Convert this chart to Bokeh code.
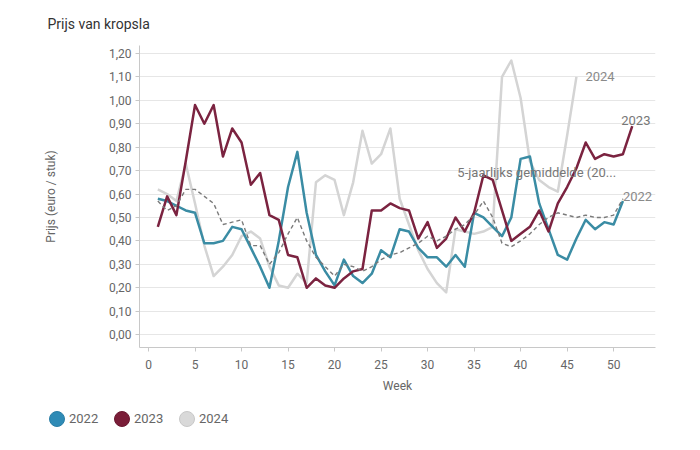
from bokeh.plotting import figure
from bokeh.layouts import column
from bokeh.models import (Range1d, FixedTicker, CustomJSTickFormatter, Label, Div)
from bokeh.embed import file_html
from bokeh.resources import INLINE

# ---------------- data ----------------
weeks_2022 = list(range(1, 52))
price_2022 = [0.58, 0.57, 0.55, 0.53, 0.52, 0.39, 0.39, 0.40, 0.46, 0.45,
              0.37, 0.29, 0.20, 0.40, 0.63, 0.78, 0.52, 0.34, 0.27, 0.21,
              0.32, 0.25, 0.22, 0.26, 0.36, 0.33, 0.45, 0.44, 0.37, 0.33,
              0.33, 0.29, 0.34, 0.29, 0.52, 0.50, 0.46, 0.42, 0.50, 0.75,
              0.76, 0.56, 0.45, 0.34, 0.32, 0.41, 0.49, 0.45, 0.48, 0.47,
              0.57]

weeks_2023 = list(range(1, 53))
price_2023 = [0.46, 0.59, 0.51, 0.74, 0.98, 0.90, 0.98, 0.76, 0.88, 0.82,
              0.64, 0.69, 0.51, 0.49, 0.34, 0.33, 0.20, 0.24, 0.21, 0.20,
              0.24, 0.27, 0.28, 0.53, 0.53, 0.56, 0.54, 0.53, 0.41, 0.48,
              0.37, 0.41, 0.50, 0.44, 0.52, 0.68, 0.66, 0.53, 0.40, 0.43,
              0.46, 0.53, 0.44, 0.56, 0.63, 0.71, 0.82, 0.75, 0.77, 0.76,
              0.77, 0.89]

weeks_2024 = list(range(1, 47))
price_2024 = [0.62, 0.60, 0.57, 0.73, 0.56, 0.38, 0.25, 0.29, 0.34, 0.42,
              0.44, 0.41, 0.29, 0.21, 0.20, 0.26, 0.22, 0.65, 0.68, 0.66,
              0.51, 0.65, 0.87, 0.73, 0.77, 0.88, 0.58, 0.47, 0.36, 0.28,
              0.22, 0.18, 0.45, 0.44, 0.43, 0.44, 0.46, 1.10, 1.17, 1.01,
              0.74, 0.66, 0.63, 0.61, 0.85, 1.10]

weeks_avg = list(range(1, 52))
price_avg = [0.57, 0.53, 0.55, 0.62, 0.62, 0.59, 0.56, 0.47, 0.48, 0.49,
             0.38, 0.38, 0.30, 0.35, 0.43, 0.50, 0.40, 0.33, 0.29, 0.25,
             0.30, 0.29, 0.27, 0.29, 0.32, 0.34, 0.35, 0.37, 0.39, 0.42,
             0.40, 0.42, 0.45, 0.47, 0.51, 0.57, 0.50, 0.39, 0.375, 0.40,
             0.43, 0.47, 0.50, 0.52, 0.51, 0.50, 0.51, 0.50, 0.50, 0.51,
             0.58]

x_ticks = [0, 5, 10, 15, 20, 25, 30, 35, 40, 45, 50]
y_ticks = [0.0, 0.1, 0.2, 0.3, 0.4, 0.5, 0.6, 0.7, 0.8, 0.9, 1.0, 1.1, 1.2]

title_text = "Prijs van kropsla"
x_title = "Week"
y_title = "Prijs (euro / stuk)"
avg_label = "5-jaarlijks gemiddelde (20..."
series_names = ["2022", "2023", "2024"]

# ---------------- style ----------------
FONT = "Roboto"
C22, C23, C24, CAVG = "#3a8ca4", "#7b2340", "#d4d4d4", "#7a7a7a"
legend_fill = ["#2f8bb6", "#7a1d38", "#d9d9d9"]
legend_edge = ["#2a7ea6", "#6a1830", "#c8c8c8"]

p = figure(width=700, height=395, output_backend="svg", toolbar_location=None,
           x_range=Range1d(-0.97, 54.5), y_range=Range1d(-0.055, 1.234),
           min_border_left=139, min_border_right=45, min_border_top=45,
           min_border_bottom=45)
p.outline_line_color = None
p.background_fill_color = "white"
p.border_fill_color = "white"

p.title.text = title_text
p.title.align = "left"
p.title.offset = -92
p.title.standoff = 27
p.title.text_font = FONT
p.title.text_font_size = "14px"
p.title.text_font_style = "normal"
p.title.text_color = "#333333"

p.xgrid.visible = False
p.ygrid.grid_line_color = "#e6e6e6"
p.ygrid.grid_line_width = 1

p.xaxis.ticker = FixedTicker(ticks=x_ticks)
p.yaxis.ticker = FixedTicker(ticks=y_ticks)
p.yaxis.formatter = CustomJSTickFormatter(code="return tick.toFixed(2).replace('.', ',');")

for ax in (p.xaxis, p.yaxis):
    ax.axis_line_color = "#c8c8c8"
    ax.major_tick_line_color = "#c8c8c8"
    ax.major_tick_in = 0
    ax.major_tick_out = 4
    ax.minor_tick_line_color = None
    ax.major_label_text_font = FONT
    ax.major_label_text_font_size = "12px"
    ax.major_label_text_color = "#666666"
    ax.axis_label_text_font = FONT
    ax.axis_label_text_font_size = "12px"
    ax.axis_label_text_font_style = "normal"
    ax.axis_label_text_color = "#666666"

p.xaxis.axis_label = x_title
p.yaxis.axis_label = y_title
p.xaxis.major_label_standoff = 8
p.xaxis.axis_label_standoff = 7
p.yaxis.major_label_standoff = 4
p.yaxis.axis_label_standoff = 48

# ---------------- lines ----------------
p.line(weeks_2024, price_2024, line_color=C24, line_width=2.5, line_join="round")
p.line(weeks_2022, price_2022, line_color=C22, line_width=2.5, line_join="round")
p.line(weeks_2023, price_2023, line_color=C23, line_width=2.5, line_join="round")
p.line(weeks_avg, price_avg, line_color=CAVG, line_width=1.4, line_dash="4 3")

# end labels
lab_style = dict(text_font=FONT, text_font_size="13px", text_baseline="middle")
p.add_layout(Label(x=weeks_2024[-1], y=price_2024[-1], text=series_names[2],
                   x_offset=9, y_offset=0, text_color="#8a8a8a", **lab_style))
p.add_layout(Label(x=weeks_2023[-1], y=price_2023[-1], text=series_names[1],
                   x_offset=-11, y_offset=6, text_color="#777777", **lab_style))
p.add_layout(Label(x=weeks_2022[-1], y=price_2022[-1], text=series_names[0],
                   x_offset=0, y_offset=5, text_color="#8a8a8a", **lab_style))
p.add_layout(Label(x=33.2, y=0.693, text=avg_label, text_color="#777777", **lab_style))

# ---------------- legend (HTML strip below the chart) ----------------
items_html = "".join(
    f'<span style="display:inline-flex;align-items:center;width:65px;">'
    f'<span style="display:inline-block;box-sizing:border-box;width:16px;height:16px;'
    f'border-radius:50%;background:{fill};border:1px solid {edge};margin-right:4px;"></span>'
    f'<span>{name}</span></span>'
    for name, fill, edge in zip(series_names, legend_fill, legend_edge))
legend_div = Div(
    text=(f'<div style="display:flex;align-items:center;padding:16px 0 0 49px;'
          f'font-family:Roboto;font-size:13px;color:#666666;line-height:16px;">'
          f'{items_html}</div>'),
    width=700, height=55, margin=(0, 0, 0, 0))

layout = column(p, legend_div, spacing=0)
open("out.html", "w").write(file_html(layout, INLINE))
